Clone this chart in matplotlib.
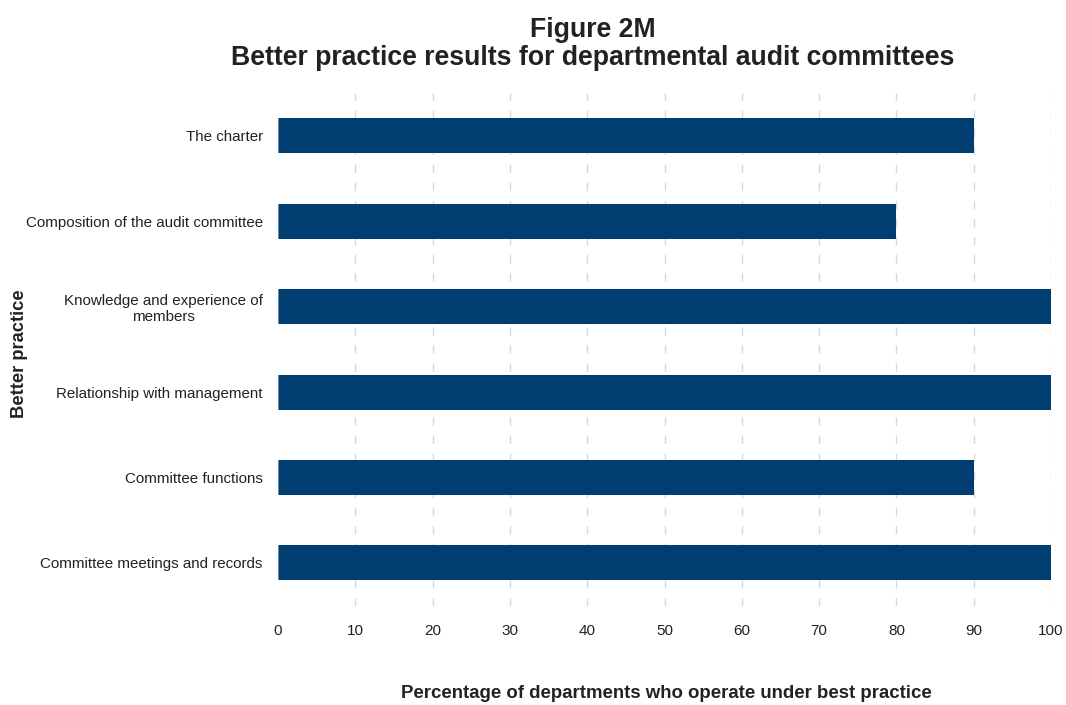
import matplotlib.pyplot as plt

plt.rcParams['font.family'] = ['Liberation Sans', 'DejaVu Sans']

practices = [
    'The charter',
    'Composition of the audit committee',
    'Knowledge and experience of\nmembers',
    'Relationship with management',
    'Committee functions',
    'Committee meetings and records',
]
percent = [90, 80, 100, 100, 90, 100]
x_ticks = [0, 10, 20, 30, 40, 50, 60, 70, 80, 90, 100]

fig = plt.figure(figsize=(10.66, 7.05), dpi=100)
ax = fig.add_axes([0.2608, 0.1409, 0.7252, 0.7268])

pos = list(range(len(practices)))
ax.barh(pos, percent, height=0.41, color='#003d71', zorder=2)
# thin light edge where bars meet the zero line
ax.vlines([0] * len(pos), [p - 0.205 for p in pos], [p + 0.205 for p in pos],
          color='#8a9bb0', linewidth=1.2, zorder=3)

ax.set_ylim(len(practices) - 0.5, -0.5)
ax.set_xlim(0, 100)
ax.set_yticks(pos)
ax.set_yticklabels(practices, fontsize=10.9, color='#222222',
                   multialignment='center')
ax.set_xticks(x_ticks)
ax.set_xticklabels([str(t) for t in x_ticks], fontsize=11, color='#222222')
ax.tick_params(axis='both', length=0)
ax.tick_params(axis='x', pad=13)
ax.tick_params(axis='y', pad=11)

# dashed vertical guides, skipping the zero line
for t in x_ticks[1:]:
    ax.axvline(t, color='#d8d8d8', linestyle=(0, (6, 7)), linewidth=1, zorder=0)
for s in ax.spines.values():
    s.set_visible(False)

fig.text(666 / 1066, 1 - 693 / 705,
         'Percentage of departments who operate under best practice',
         ha='center', va='center', fontsize=13.45, fontweight='bold', color='#222222')
fig.text(20 / 1066, 1 - 354 / 705, 'Better practice', rotation=90, fontsize=13.2,
         fontweight='bold', color='#222222', ha='center', va='center')

fig.text(593 / 1066, 1 - 44 / 705,
         'Figure 2M\nBetter practice results for departmental audit committees',
         ha='center', va='center', fontsize=19.2, fontweight='bold',
         color='#222222', linespacing=1.14)

fig.savefig('out.png', dpi=100)
